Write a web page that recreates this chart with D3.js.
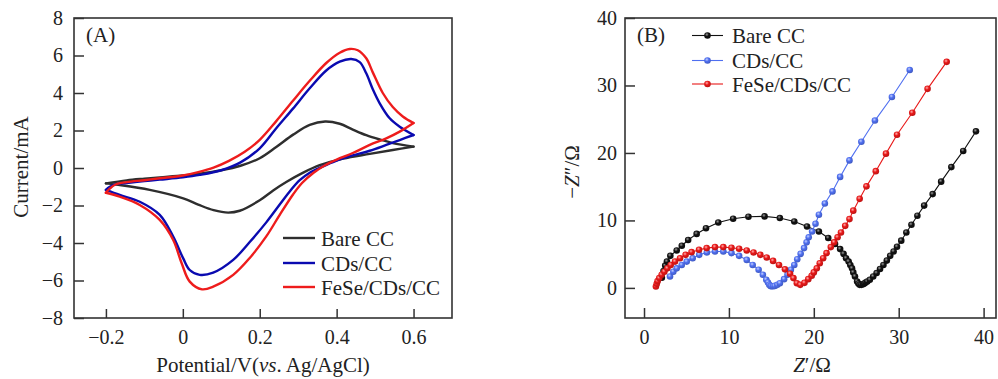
<!DOCTYPE html>
<html><head><meta charset="utf-8">
<script src="https://cdn.jsdelivr.net/npm/d3@7"></script>
<style>
html,body{margin:0;padding:0;background:#fff;}
svg text{font-family:"Liberation Serif","Times New Roman",serif;fill:#222;}
</style></head>
<body><svg id="c" width="998" height="379"></svg>
<script>
// ---------- Panel A : cyclic voltammetry ----------
const seriesNames = ["Bare CC", "CDs/CC", "FeSe/CDs/CC"];
const cvTicksX = [-0.2, 0, 0.2, 0.4, 0.6];
const cvTickLabelsX = ["\u22120.2", "0", "0.2", "0.4", "0.6"];
const cvTicksY = [-8, -6, -4, -2, 0, 2, 4, 6, 8];
const cvTickLabelsY = ["\u22128", "\u22126", "\u22124", "\u22122", "0", "2", "4", "6", "8"];

// [potential V, current mA]
const cvBareFwd = [[-0.2,-0.82],[-0.146,-0.66],[-0.1,-0.57],[-0.06,-0.5],[0,-0.4],[0.044,-0.3],[0.1,-0.12],[0.15,0.12],[0.2,0.52],[0.243,1.12],[0.287,1.78],[0.33,2.3],[0.37,2.48],[0.408,2.36],[0.442,2.05],[0.477,1.75],[0.512,1.52],[0.546,1.33],[0.6,1.14]];
const cvBareRev = [[0.6,1.14],[0.546,0.96],[0.486,0.75],[0.417,0.5],[0.356,0.15],[0.313,-0.25],[0.269,-0.75],[0.235,-1.2],[0.2,-1.72],[0.148,-2.28],[0.118,-2.38],[0.08,-2.25],[0.04,-1.95],[0.001,-1.62],[-0.086,-1.17],[-0.164,-0.91],[-0.2,-0.82]];
const cvCDsFwd = [[-0.2,-1.17],[-0.19,-1.0],[-0.17,-0.85],[-0.146,-0.8],[-0.1,-0.7],[-0.06,-0.62],[0,-0.5],[0.044,-0.37],[0.1,-0.12],[0.15,0.3],[0.2,1.05],[0.243,2.12],[0.287,3.18],[0.33,4.25],[0.373,5.2],[0.408,5.67],[0.438,5.81],[0.46,5.65],[0.477,5.05],[0.494,4.2],[0.512,3.45],[0.538,2.65],[0.564,2.2],[0.6,1.76]];
const cvCDsRev = [[0.6,1.76],[0.564,1.49],[0.529,1.23],[0.486,0.92],[0.442,0.67],[0.4,0.4],[0.36,0.05],[0.33,-0.25],[0.304,-0.65],[0.28,-1.2],[0.252,-1.95],[0.217,-2.9],[0.174,-3.95],[0.131,-4.9],[0.079,-5.58],[0.044,-5.7],[0.018,-5.44],[0.001,-4.82],[-0.025,-3.66],[-0.06,-2.5],[-0.112,-1.8],[-0.164,-1.44],[-0.2,-1.17]];
const cvFeSeFwd = [[-0.2,-1.32],[-0.19,-1.1],[-0.175,-0.88],[-0.146,-0.75],[-0.1,-0.65],[-0.06,-0.55],[0,-0.4],[0.04,-0.22],[0.08,0.02],[0.12,0.38],[0.16,0.85],[0.2,1.5],[0.243,2.5],[0.287,3.6],[0.33,4.65],[0.373,5.6],[0.408,6.15],[0.434,6.35],[0.455,6.28],[0.477,5.85],[0.494,5.1],[0.52,4.0],[0.546,3.25],[0.572,2.75],[0.6,2.4]];
const cvFeSeRev = [[0.6,2.4],[0.564,1.94],[0.529,1.58],[0.486,1.23],[0.442,0.8],[0.4,0.45],[0.37,0.15],[0.34,-0.25],[0.31,-0.8],[0.287,-1.4],[0.252,-2.5],[0.217,-3.65],[0.174,-4.8],[0.131,-5.7],[0.079,-6.33],[0.05,-6.47],[0.018,-6.06],[-0.003,-5.08],[-0.025,-3.84],[-0.06,-2.77],[-0.112,-1.97],[-0.164,-1.53],[-0.2,-1.32]];

// ---------- Panel B : Nyquist plot ----------
const eisTicks = [0, 10, 20, 30, 40];
// [Z' ohm, -Z'' ohm]
const eisBare = [[2.1,1.5],[2.3,2.5],[2.5,3.3],[2.7,3.9],[3.1,4.75],[3.85,5.55],[4.45,6.25],[5.2,7.1],[6.2,8.0],[7.3,8.85],[8.75,9.7],[10.5,10.25],[12.3,10.55],[14.2,10.6],[16.0,10.35],[17.7,9.85],[19.2,9.1],[20.6,8.35],[21.7,7.4],[22.5,6.5],[23.1,5.75],[23.5,5.05],[23.8,4.4],[24.1,3.9],[24.3,3.4],[24.5,2.9],[24.65,2.3],[24.85,1.7],[25.1,0.95],[25.25,0.65],[25.4,0.45],[25.6,0.45],[25.8,0.55],[25.95,0.65],[26.1,0.8],[26.3,0.95],[26.6,1.2],[27.0,1.7],[27.4,2.2],[27.8,2.8],[28.2,3.4],[28.6,4.05],[29.0,4.75],[29.4,5.4],[29.8,6.1],[30.3,7.0],[30.9,8.2],[31.5,9.35],[32.2,10.7],[33.0,12.2],[34.0,13.9],[35.0,15.75],[36.2,17.9],[37.6,20.3],[39.1,23.2]];
const eisCDs = [[3.06,1.7],[3.45,2.4],[3.85,2.9],[4.44,3.4],[5.03,3.9],[5.73,4.4],[6.5,4.9],[7.4,5.25],[8.36,5.4],[9.34,5.4],[10.3,5.15],[11.2,4.75],[12.1,4.15],[12.8,3.4],[13.5,2.7],[14.0,1.95],[14.4,1.2],[14.6,0.8],[14.75,0.45],[14.9,0.3],[15.0,0.25],[15.2,0.25],[15.4,0.3],[15.7,0.45],[16.0,0.7],[16.5,1.3],[16.9,1.95],[17.3,2.7],[17.7,3.4],[18.05,4.25],[18.45,5.05],[18.85,5.9],[19.15,6.75],[19.4,7.5],[19.8,8.35],[20.2,9.5],[20.6,10.85],[21.3,12.5],[22.2,14.3],[23.1,16.45],[24.2,18.9],[25.6,21.65],[27.2,24.8],[29.2,28.3],[31.3,32.3]];
const eisFeSe = [[1.4,0.2],[1.5,0.6],[1.6,1.0],[1.8,1.45],[2.08,1.95],[2.4,2.4],[2.75,2.9],[3.14,3.4],[3.65,3.9],[4.24,4.4],[4.9,4.9],[5.6,5.3],[6.48,5.65],[7.38,5.9],[8.36,6.05],[9.34,6.05],[10.3,5.95],[11.2,5.8],[12.1,5.55],[12.9,5.25],[13.7,4.9],[14.45,4.5],[15.2,4.0],[15.9,3.4],[16.6,2.75],[17.2,2.1],[17.6,1.45],[18.0,0.7],[18.4,0.45],[18.9,0.75],[19.35,1.3],[19.75,1.8],[20.0,2.3],[20.35,2.9],[20.7,3.65],[21.1,4.4],[21.5,5.15],[22.0,6.05],[22.4,6.75],[22.8,7.5],[23.2,8.2],[23.7,9.2],[24.2,10.2],[24.65,11.45],[25.4,13.2],[26.2,15.05],[27.3,17.3],[28.5,19.9],[29.8,22.7],[31.6,25.95],[33.4,29.5],[35.65,33.5]];

const cvColors = ["#2e2e2e", "#0a0ab0", "#ee1c1c"];
const eisColors = ["#111111", "#4f6ff0", "#e81818"];
const eisLight = ["#9a9a9a", "#c4d0ff", "#ffb0b0"];

const svg = d3.select("#c");
const FS = 20;

// ====== Panel A ======
const A = {l:74, r:452, t:18, b:318};
const xA = d3.scaleLinear().domain([-0.283, 0.7]).range([A.l, A.r]);
const yA = d3.scaleLinear().domain([-8, 8]).range([A.b, A.t]);
const gA = svg.append("g");

function styleAxis(g){
  g.select(".domain").remove();
  g.selectAll(".tick line").attr("stroke","#333").attr("stroke-width",1.5);
  g.selectAll(".tick text").attr("font-size",FS).attr("font-family","Liberation Serif").attr("fill","#222");
}
gA.append("g").attr("transform",`translate(0,${A.b})`)
  .call(d3.axisBottom(xA).tickValues(cvTicksX).tickFormat((d,i)=>cvTickLabelsX[i]).tickSize(-9).tickPadding(12))
  .call(styleAxis);
gA.append("g").attr("transform",`translate(${A.l},0)`)
  .call(d3.axisLeft(yA).tickValues(cvTicksY).tickFormat((d,i)=>cvTickLabelsY[i]).tickSize(-10).tickPadding(11))
  .call(styleAxis);

const lineA = d3.line().x(d=>xA(d[0])).y(d=>yA(d[1])).curve(d3.curveCatmullRom.alpha(0.5));
const cvSets = [[cvBareFwd,cvBareRev],[cvCDsFwd,cvCDsRev],[cvFeSeFwd,cvFeSeRev]];
cvSets.forEach((s,i)=>{
  s.forEach(arr=>{
    gA.append("path").attr("d",lineA(arr)).attr("fill","none")
      .attr("stroke",cvColors[i]).attr("stroke-width",2.4).attr("stroke-linejoin","round").attr("stroke-linecap","round");
  });
});
gA.append("rect").attr("x",A.l).attr("y",A.t).attr("width",A.r-A.l).attr("height",A.b-A.t)
  .attr("fill","none").attr("stroke","#333").attr("stroke-width",1.6);
gA.append("text").attr("x",86).attr("y",42).attr("font-size",21).text("(A)");
gA.append("text").attr("x",(A.l+A.r)/2).attr("y",372).attr("text-anchor","middle").attr("font-size",21)
  .html('Potential/V(<tspan font-style="italic">vs</tspan>. Ag/AgCl)');
gA.append("text").attr("transform","translate(28,167) rotate(-90)").attr("text-anchor","middle").attr("font-size",21).text("Current/mA");
const legA = gA.append("g");
[238,263,287].forEach((yy,i)=>{
  legA.append("line").attr("x1",283).attr("x2",315).attr("y1",yy).attr("y2",yy).attr("stroke",cvColors[i]).attr("stroke-width",2.4);
  legA.append("text").attr("x",321).attr("y",yy+7.5).attr("font-size",21).text(seriesNames[i]);
});

// ====== Panel B ======
const B = {l:625, r:996, t:18, b:318};
const xB = d3.scaleLinear().domain([-2.24, 41.46]).range([B.l, B.r]);
const yB = d3.scaleLinear().domain([-4.46, 40]).range([B.b, B.t]);
const gB = svg.append("g");
gB.append("g").attr("transform",`translate(0,${B.b})`)
  .call(d3.axisBottom(xB).tickValues(eisTicks).tickFormat(d3.format("d")).tickSize(-10).tickPadding(12))
  .call(styleAxis);
gB.append("g").attr("transform",`translate(${B.l},0)`)
  .call(d3.axisLeft(yB).tickValues(eisTicks).tickFormat(d3.format("d")).tickSize(-10).tickPadding(8))
  .call(styleAxis);

const defs = svg.append("defs");
eisColors.forEach((c,i)=>{
  const gr = defs.append("radialGradient").attr("id","g"+i).attr("cx","40%").attr("cy","35%").attr("r","65%");
  gr.append("stop").attr("offset","0%").attr("stop-color",eisLight[i]);
  gr.append("stop").attr("offset","45%").attr("stop-color",c);
  gr.append("stop").attr("offset","100%").attr("stop-color",d3.color(c).darker(0.6));
});
const lineB = d3.line().x(d=>xB(d[0])).y(d=>yB(d[1]));
[eisBare, eisCDs, eisFeSe].forEach((arr,i)=>{
  gB.append("path").attr("d",lineB(arr)).attr("fill","none").attr("stroke",eisColors[i]).attr("stroke-width",1.1);
  gB.append("g").selectAll("circle").data(arr).join("circle")
    .attr("cx",d=>xB(d[0])).attr("cy",d=>yB(d[1])).attr("r",3.3).attr("fill",`url(#g${i})`);
});
gB.append("rect").attr("x",B.l).attr("y",B.t).attr("width",B.r-B.l).attr("height",B.b-B.t)
  .attr("fill","none").attr("stroke","#333").attr("stroke-width",1.6);
gB.append("text").attr("x",637).attr("y",42).attr("font-size",21).text("(B)");
gB.append("text").attr("x",812).attr("y",372).attr("text-anchor","middle").attr("font-size",21)
  .html('<tspan font-style="italic">Z</tspan>\u2032/\u03A9');
gB.append("text").attr("transform","translate(579,172) rotate(-90)").attr("text-anchor","middle").attr("font-size",21)
  .html('\u2212<tspan font-style="italic">Z</tspan>\u2033/\u03A9');
const legB = gB.append("g");
[35.5,60.5,84].forEach((yy,i)=>{
  legB.append("line").attr("x1",692).attr("x2",723).attr("y1",yy).attr("y2",yy).attr("stroke",eisColors[i]).attr("stroke-width",1.1);
  legB.append("circle").attr("cx",707.5).attr("cy",yy).attr("r",3.3).attr("fill",`url(#g${i})`);
  legB.append("text").attr("x",732).attr("y",yy+7.5).attr("font-size",21).text(seriesNames[i]);
});
</script></body></html>
